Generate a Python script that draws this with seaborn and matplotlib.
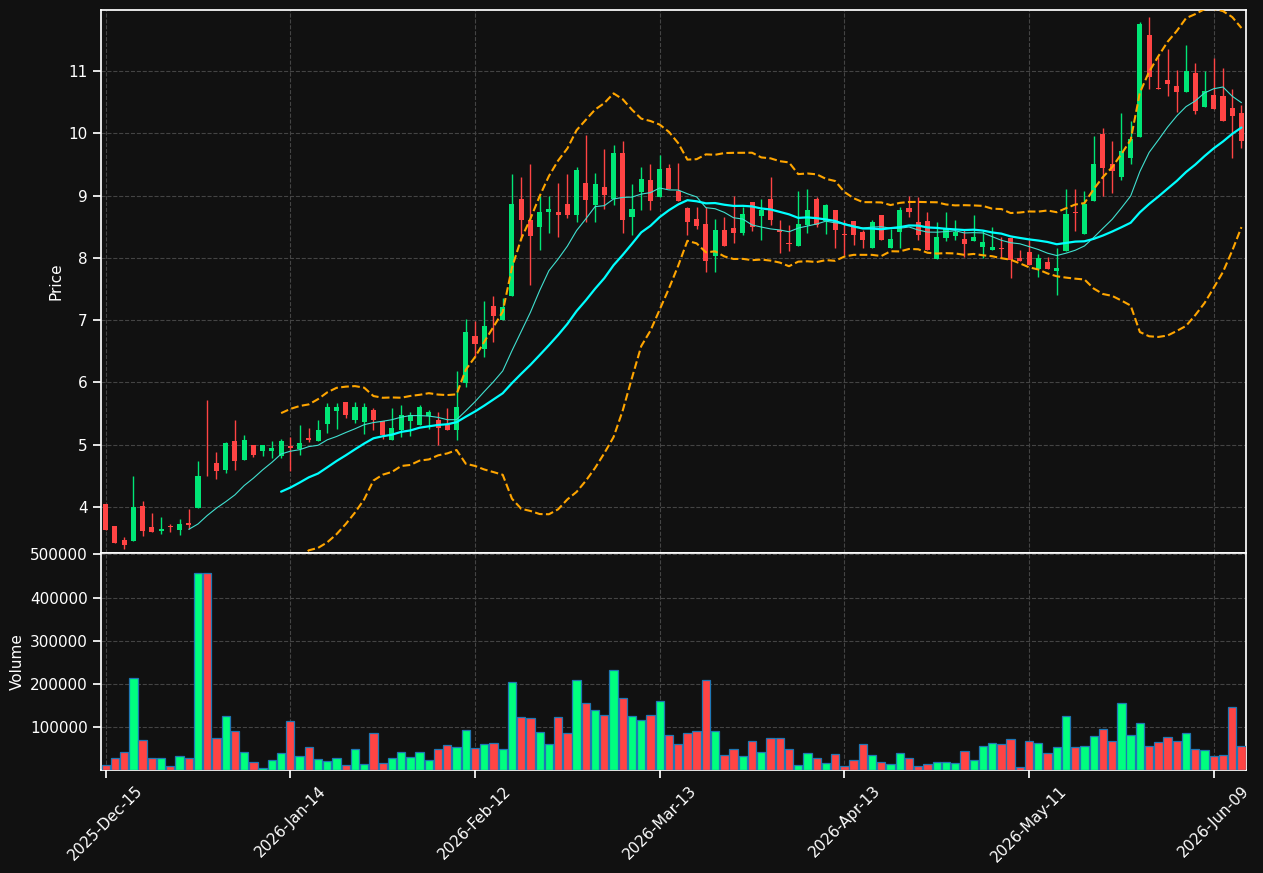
import numpy as np
import pandas as pd
import seaborn as sns
import matplotlib.pyplot as plt

# daily OHLCV (124 trading days)
opens = [4.04, 3.69, 3.47, 3.46, 4.02, 3.68, 3.61, 3.70, 3.63, 3.74,
         3.99, 4.785, 4.71, 4.59, 5.06, 4.76, 5.00, 4.90, 4.90, 4.81,
         4.98, 4.93, 5.10, 5.05, 5.33, 5.54, 5.69, 5.39, 5.36, 5.56,
         5.38, 5.07, 5.23, 5.38, 5.32, 5.46, 5.40, 5.31, 5.23, 5.99,
         6.74, 6.54, 7.22, 7.00, 7.39, 8.94, 8.61, 8.50, 8.74, 8.73,
         8.86, 8.69, 9.20, 8.85, 9.14, 8.95, 9.68, 8.66, 9.06, 9.25,
         8.97, 9.44, 9.07, 8.80, 8.62, 8.55, 8.03, 8.44, 8.48, 8.40,
         8.89, 8.67, 8.94, 8.44, 8.23, 8.19, 8.52, 8.94, 8.59, 8.77,
         8.38, 8.59, 8.41, 8.15, 8.68, 8.16, 8.41, 8.80, 8.57, 8.59,
         7.98, 8.32, 8.35, 8.30, 8.27, 8.17, 8.12, 8.15, 8.31, 8.00,
         8.09, 7.82, 7.94, 7.79, 8.11, 8.73, 8.38, 8.92, 9.99, 9.50,
         9.29, 9.60, 9.94, 11.57, 10.73, 10.86, 10.76, 10.67, 10.96, 10.42,
         10.62, 10.60, 10.41, 10.32]
highs = [4.05, 3.69, 3.52, 4.49, 4.10, 3.90, 3.84, 3.73, 3.80, 3.96,
         4.74, 5.72, 4.88, 5.04, 5.40, 5.15, 5.00, 5.00, 5.05, 5.09,
         5.13, 5.32, 5.26, 5.40, 5.67, 5.67, 5.69, 5.69, 5.67, 5.59,
         5.38, 5.59, 5.64, 5.52, 5.64, 5.56, 5.53, 5.59, 6.18, 7.01,
         6.99, 7.31, 7.38, 7.36, 9.34, 9.30, 9.50, 9.00, 9.00, 9.20,
         9.34, 9.46, 9.97, 9.36, 9.74, 9.81, 9.88, 9.18, 9.46, 9.50,
         9.65, 9.50, 9.52, 8.81, 8.81, 8.81, 8.63, 8.65, 9.00, 8.82,
         8.89, 8.95, 9.29, 8.61, 8.52, 9.08, 9.11, 8.98, 8.87, 8.77,
         8.60, 8.59, 8.44, 8.60, 8.68, 8.47, 8.81, 9.00, 8.97, 8.74,
         8.57, 8.73, 8.61, 8.44, 8.69, 8.44, 8.50, 8.33, 8.31, 8.13,
         8.28, 8.06, 8.01, 8.16, 9.10, 9.10, 9.07, 9.96, 10.09, 9.88,
         10.33, 10.20, 11.78, 11.87, 11.22, 11.35, 11.01, 11.42, 11.13, 11.00,
         11.21, 11.05, 10.71, 10.45]
lows = [3.63, 3.42, 3.32, 3.46, 3.54, 3.59, 3.57, 3.59, 3.55, 3.65,
        3.99, 4.49, 4.45, 4.54, 4.59, 4.76, 4.80, 4.82, 4.78, 4.78,
        4.58, 4.83, 5.04, 5.05, 5.19, 5.25, 5.42, 5.35, 5.17, 5.23,
        5.09, 5.07, 5.13, 5.14, 5.32, 5.25, 4.99, 5.23, 5.08, 5.92,
        6.40, 6.40, 6.65, 7.00, 7.39, 8.28, 7.56, 8.13, 8.40, 8.34,
        8.64, 8.57, 8.58, 8.57, 8.78, 8.85, 8.40, 8.36, 8.77, 8.77,
        8.97, 9.10, 8.91, 8.37, 8.46, 7.77, 7.77, 8.19, 8.23, 8.37,
        8.43, 8.29, 8.53, 8.08, 8.11, 8.19, 8.40, 8.50, 8.39, 8.16,
        8.04, 8.20, 8.16, 8.15, 8.28, 8.16, 8.16, 8.66, 8.28, 8.12,
        7.98, 8.27, 8.29, 8.01, 8.27, 8.00, 8.12, 8.00, 7.68, 7.95,
        7.89, 7.69, 7.82, 7.40, 8.11, 8.43, 8.38, 8.92, 8.99, 9.04,
        9.25, 9.51, 9.94, 10.71, 10.71, 10.60, 10.34, 10.67, 10.31, 10.42,
        10.39, 10.19, 9.60, 9.76]
closes = [3.63, 3.42, 3.38, 4.00, 3.62, 3.59, 3.645, 3.67, 3.73, 3.71,
          4.49, 4.78, 4.57, 5.02, 4.73, 5.08, 4.83, 5.00, 4.94, 5.05,
          4.94, 5.02, 5.07, 5.23, 5.61, 5.61, 5.47, 5.60, 5.60, 5.39,
          5.15, 5.27, 5.48, 5.48, 5.61, 5.53, 5.26, 5.23, 5.60, 6.81,
          6.62, 6.90, 7.06, 7.21, 8.86, 8.61, 8.35, 8.73, 8.78, 8.68,
          8.69, 9.41, 8.93, 9.18, 9.01, 9.68, 8.61, 8.78, 9.26, 8.92,
          9.43, 9.10, 8.91, 8.58, 8.51, 7.95, 8.44, 8.19, 8.40, 8.71,
          8.49, 8.76, 8.61, 8.41, 8.22, 8.54, 8.77, 8.52, 8.85, 8.45,
          8.36, 8.37, 8.28, 8.57, 8.28, 8.30, 8.76, 8.73, 8.36, 8.12,
          8.34, 8.47, 8.41, 8.22, 8.33, 8.25, 8.17, 8.14, 7.97, 7.95,
          7.89, 8.00, 7.82, 7.84, 8.71, 8.72, 8.86, 9.51, 9.44, 9.39,
          9.72, 9.91, 11.76, 10.90, 10.71, 10.79, 10.66, 11.00, 10.35, 10.68,
          10.39, 10.19, 10.27, 9.87]
volumes = [11600, 27000, 42000, 214000, 70000, 27000, 27000, 8500, 32500, 27000,
           456000, 458000, 73600, 125600, 90700, 42000, 18600, 3900, 23000, 39500,
           114000, 31800, 53500, 25600, 21000, 27000, 11600, 48800, 14000, 86000,
           16300, 27000, 42000, 30000, 42000, 23000, 48800, 58000, 53500, 93000,
           51000, 60500, 62800, 48800, 204700, 123000, 121000, 88400, 60500, 123000,
           86800, 209000, 155800, 139500, 128700, 232600, 167400, 125600, 116300, 128000,
           160500, 81400, 60500, 86000, 90700, 209000, 90700, 34900, 48800, 32500,
           67400, 41900, 74400, 74400, 48800, 11600, 39500, 27900, 16300, 37200,
           9300, 23300, 60500, 34900, 18600, 14000, 39500, 27900, 9300, 14000,
           18600, 18600, 16300, 44200, 23300, 55800, 62800, 60500, 72100, 7000,
           67400, 62800, 39500, 53500, 125600, 53500, 55800, 79100, 95300, 67400,
           155800, 81400, 109300, 55800, 65100, 76700, 67400, 86000, 48800, 46500,
           32500, 34900, 146500, 55800]
tick_pos = [0, 20, 40, 60, 80, 100, 120]
tick_labels = ['2025-Dec-15', '2026-Jan-14', '2026-Feb-12', '2026-Mar-13',
               '2026-Apr-13', '2026-May-11', '2026-Jun-09']

df = pd.DataFrame({'open': opens, 'high': highs, 'low': lows,
                   'close': closes, 'volume': volumes})
df['idx'] = np.arange(len(df))
df['ma10'] = df['close'].rolling(10).mean()
df['ma20'] = df['close'].rolling(20).mean()
std20 = df['close'].rolling(20).std(ddof=0)
df['upper'] = df['ma20'] + 2 * std20
df['lower'] = df['ma20'] - 2 * std20

bg = '#111111'
sns.set_theme(style="ticks", rc={
    'figure.facecolor': bg, 'axes.facecolor': bg, 'axes.edgecolor': 'white',
    'axes.labelcolor': 'white', 'text.color': 'white',
    'xtick.color': 'white', 'ytick.color': 'white'})
plt.rcParams['font.family'] = ['DejaVu Sans']

fig = plt.figure(figsize=(12.63, 8.73), dpi=100)
ax = fig.add_axes([0.080, 0.3666, 0.9066, 0.622])
ax2 = fig.add_axes([0.080, 0.118, 0.9066, 0.2486], sharex=ax)

up = df['close'] >= df['open']
c_col = np.where(up, '#00e676', '#ff4444')
v_col = np.where(up, '#00ff7f', '#ff4444')

# candles
ax.vlines(df['idx'], df['low'], df['high'], colors=c_col, linewidth=1, zorder=2)
body = (df['close'] - df['open']).abs().clip(lower=0.01)
ax.bar(df['idx'], body, bottom=df[['open', 'close']].min(axis=1),
       width=0.55, color=c_col, linewidth=0, zorder=3)

sns.lineplot(data=df, x='idx', y='ma10', ax=ax, color='#40e0d0', lw=0.8, zorder=4)
sns.lineplot(data=df, x='idx', y='ma20', ax=ax, color='#00ffff', lw=1.6, zorder=4)
sns.lineplot(data=df, x='idx', y='upper', ax=ax, color='orange', lw=1.5,
             linestyle='--', zorder=4)
sns.lineplot(data=df, x='idx', y='lower', ax=ax, color='orange', lw=1.5,
             linestyle='--', zorder=4)

ax.set_ylim(3.26, 11.98)
ax.set_yticks(range(4, 12))
ax.set_ylabel('Price', fontsize=11)
ax.set_xlabel('')
ax.grid(True, linestyle='--', color='#444444', linewidth=0.8)
ax.tick_params(axis='x', labelbottom=False, length=0)
ax.tick_params(axis='y', labelsize=11)

# volume
ax2.bar(df['idx'], df['volume'], width=0.9, color=v_col,
        edgecolor='#1f77b4', linewidth=0.9, zorder=3)
ax2.set_ylim(0, 503500)
ax2.set_yticks([100000, 200000, 300000, 400000, 500000])
ax2.set_yticklabels(['100000', '200000', '300000', '400000', '500000'])
ax2.set_ylabel('Volume', fontsize=11)
ax2.grid(True, linestyle='--', color='#444444', linewidth=0.8)
ax2.set_xlim(-0.5, 123.5)
ax2.set_xticks(tick_pos)
ax2.set_xticklabels(tick_labels, rotation=45, fontsize=11)
ax2.tick_params(axis='y', labelsize=11)

for a in (ax, ax2):
    for s in a.spines.values():
        s.set_color('white')

fig.savefig('out.png', dpi=100, facecolor=bg)
